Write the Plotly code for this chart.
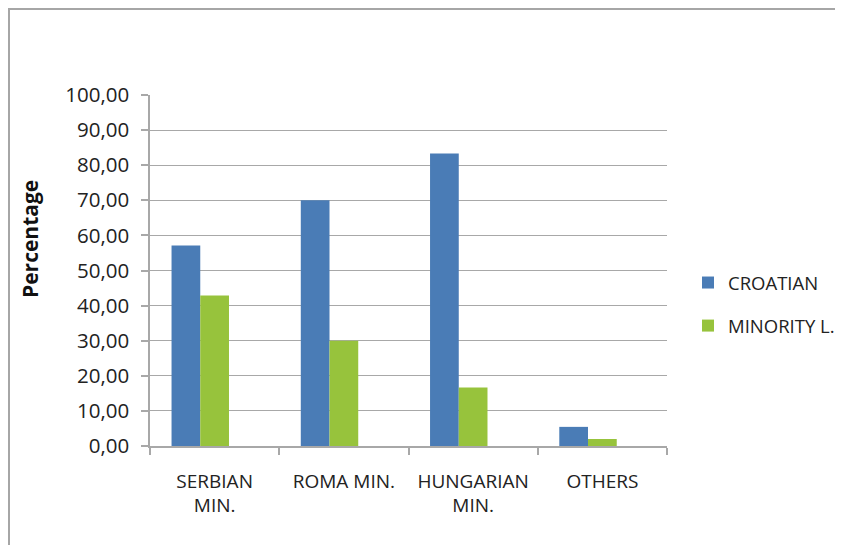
import plotly.graph_objects as go

# data
categories = ["SERBIAN<br>MIN.", "ROMA MIN.", "HUNGARIAN<br>MIN.", "OTHERS"]
croatian = [57.14, 70.00, 83.33, 5.45]
minority = [42.86, 30.00, 16.67, 2.00]
blank_series = [0, 0, 0, 0]  # empty third series in the original workbook
y_ticks = [0, 10, 20, 30, 40, 50, 60, 70, 80, 90, 100]

W, H = 843, 545
# page body has an 8px margin, so figure coords are screen coords minus 8
L, R, T, B = 142, 184, 87, 107
PW, PH = W - L - R, H - T - B

FONT = "Open Sans"
GRID = "#A8A8A8"


def px_x(x):
    return (x - L) / PW


def px_y(y):
    return (H - B - y) / PH


fig = go.Figure()
fig.add_trace(go.Bar(x=categories, y=croatian, name="CROATIAN",
                     marker=dict(color="#4A7CB6", line=dict(width=0)),
                     legendgroup="a"))
fig.add_trace(go.Bar(x=categories, y=minority, name="MINORITY L.",
                     marker=dict(color="#97C33C", line=dict(width=0)),
                     legendgroup="b"))
fig.add_trace(go.Bar(x=categories, y=blank_series, name="", showlegend=False,
                     marker=dict(color="rgba(0,0,0,0)", line=dict(width=0)),
                     hoverinfo="skip"))

# outer chart border (right/bottom edges run off the picture)
fig.add_shape(type="rect", xref="paper", yref="paper",
              x0=px_x(1), x1=px_x(W + 10), y0=px_y(H + 10), y1=px_y(1),
              line=dict(color="#A6A6A6", width=2), fillcolor="rgba(0,0,0,0)",
              layer="below")

# axis title sits a bit above the middle of the axis, like in the original
fig.add_annotation(text="<b>Percentage</b>", textangle=-90,
                   xref="paper", yref="paper",
                   x=px_x(22), y=px_y(231),
                   xanchor="center", yanchor="middle", showarrow=False,
                   font=dict(family=FONT, size=21, color="#111111"))

fig.update_layout(
    width=W, height=H,
    margin=dict(l=L, r=R, t=T, b=B, autoexpand=False),
    paper_bgcolor="white", plot_bgcolor="white",
    barmode="group", bargap=1 / 3, bargroupgap=0,
    separators=",.",
    font=dict(family=FONT, size=18, color="#222222"),
    showlegend=True,
    legend=dict(x=px_x(680), y=px_y(256), xanchor="left", yanchor="top",
                traceorder="grouped", tracegroupgap=16,
                font=dict(size=18.5), itemwidth=30, bgcolor="rgba(0,0,0,0)"),
    xaxis=dict(showline=True, linecolor=GRID, linewidth=1.5, automargin=False,
               ticks="outside", tickson="boundaries", ticklen=7, tickcolor=GRID,
               tickwidth=1.5, showgrid=False, ticklabelstandoff=17,
               tickfont=dict(size=19)),
    yaxis=dict(range=[0, 100], tickvals=y_ticks, tickformat=".2f", automargin=False,
               showline=True, linecolor=GRID, linewidth=1.5,
               ticks="outside", ticklen=7, tickcolor=GRID, tickwidth=1.5,
               showgrid=True, gridcolor=GRID, gridwidth=1.2,
               zeroline=False, ticklabelstandoff=8, tickfont=dict(size=20.5)),
)

fig.write_html("out.html")
